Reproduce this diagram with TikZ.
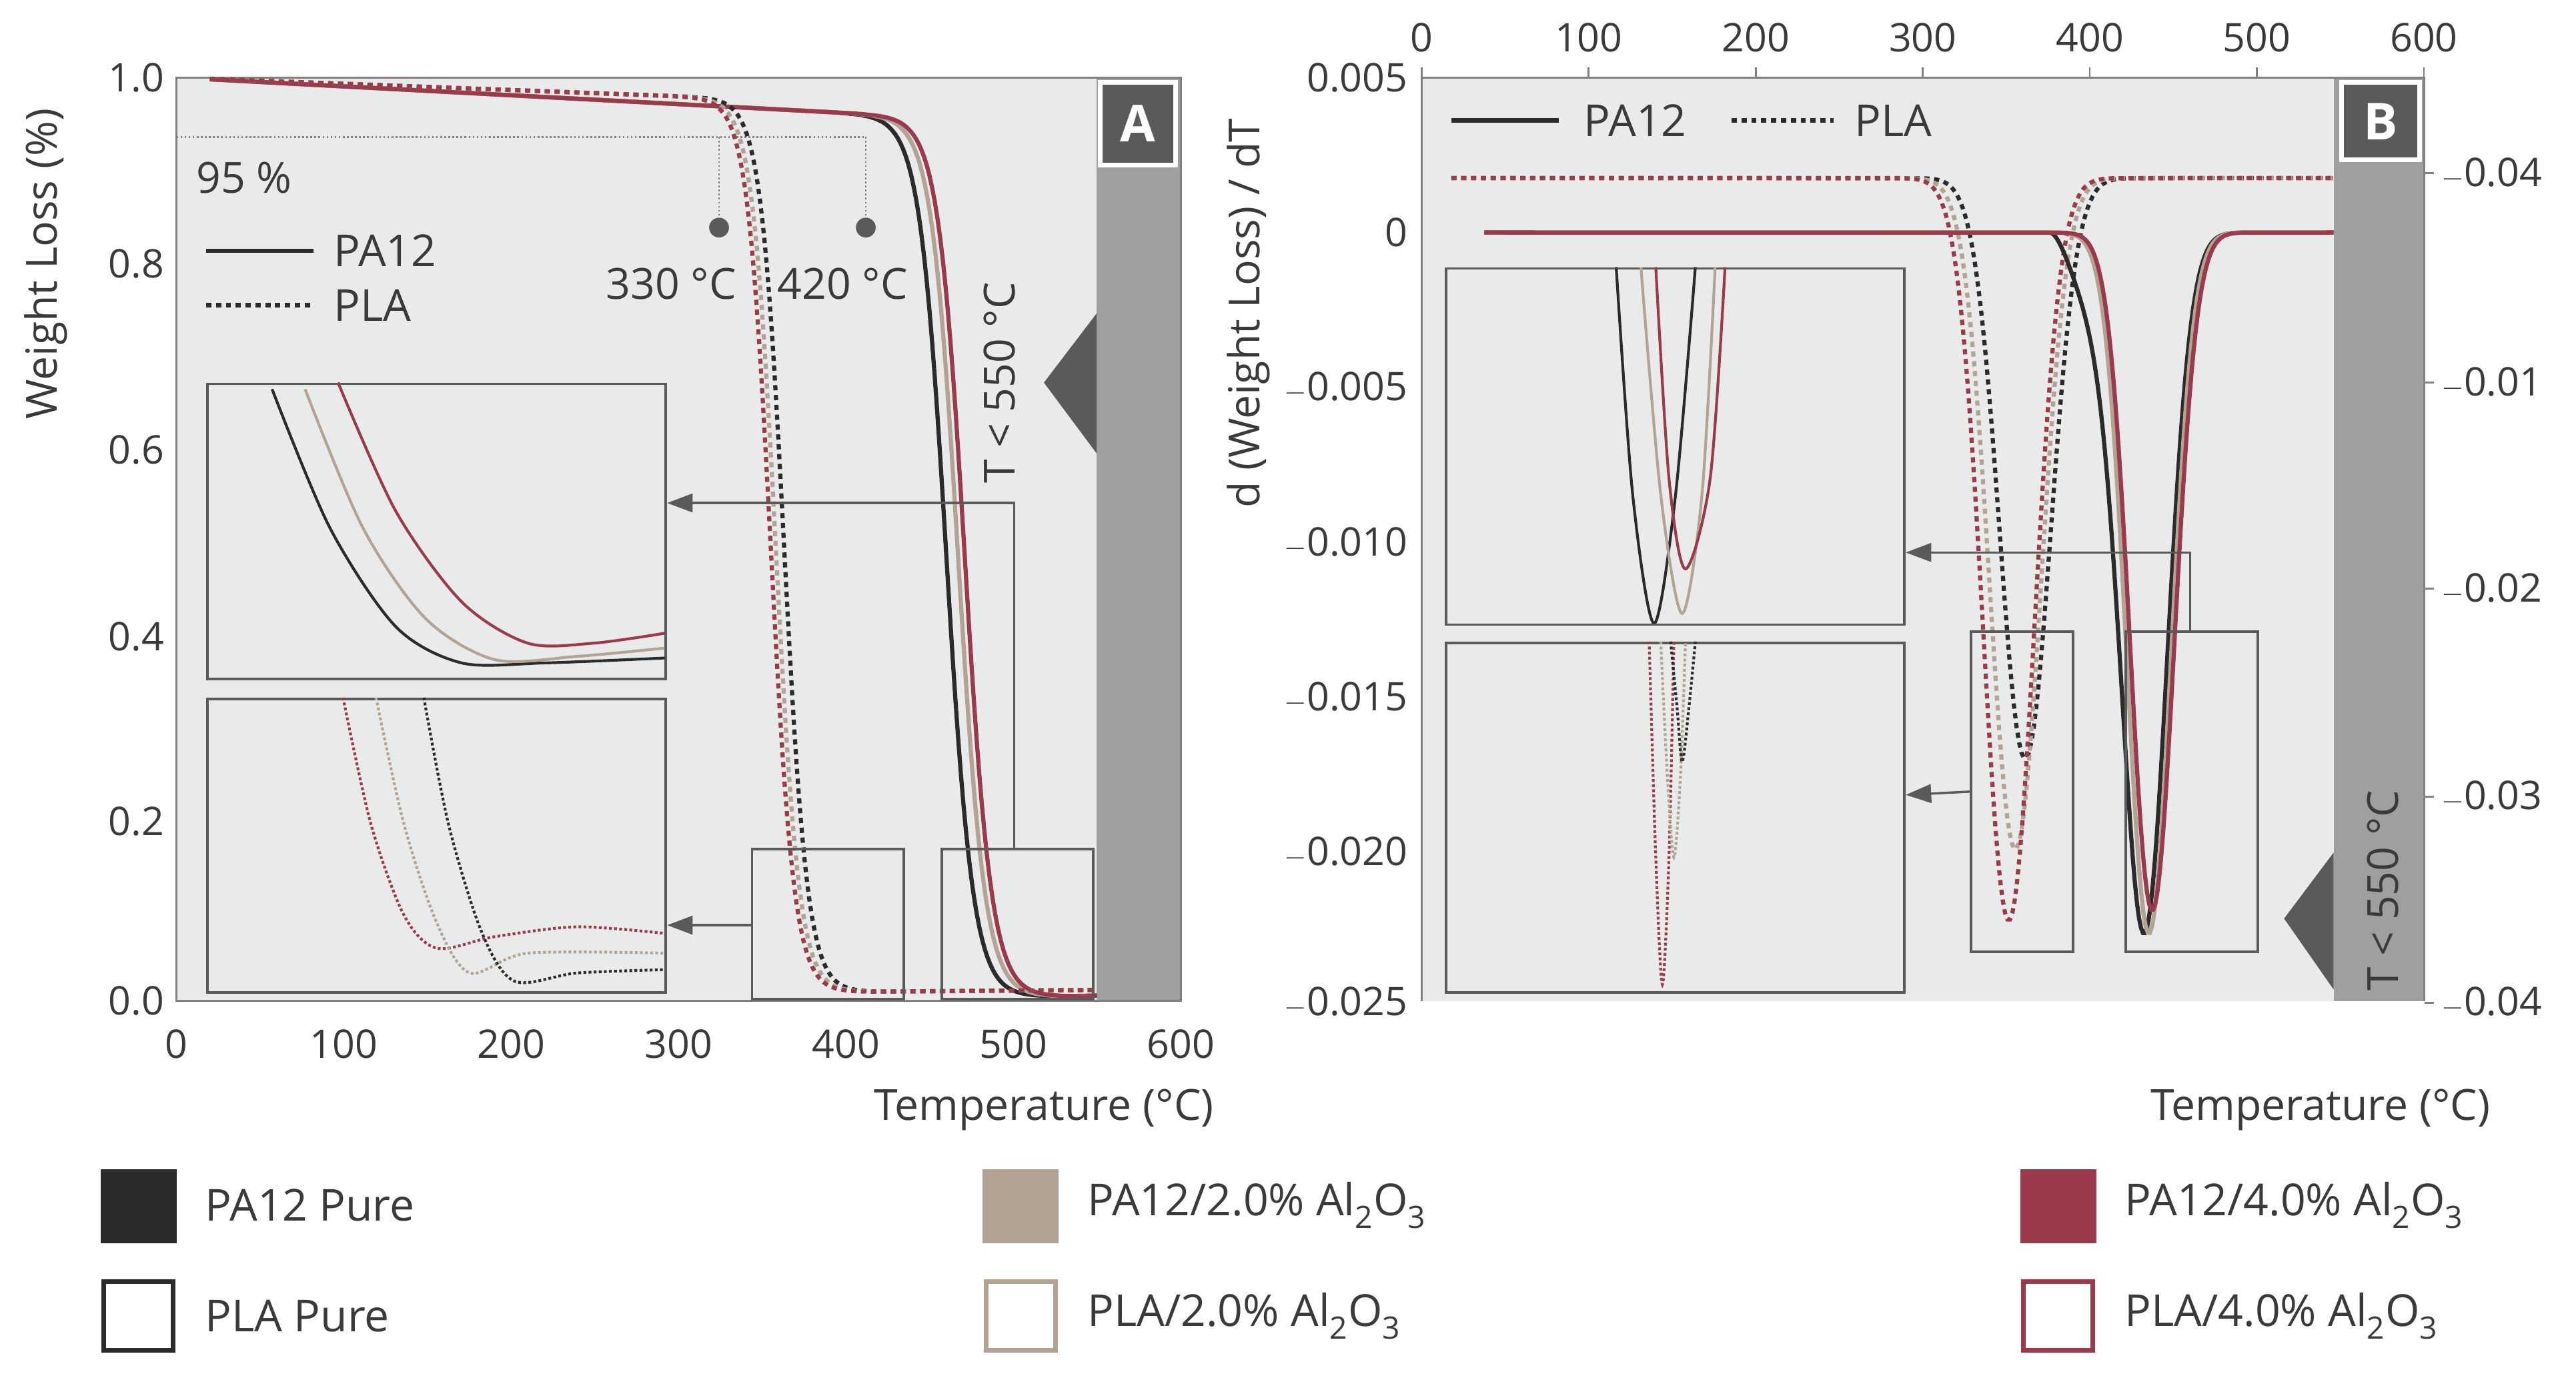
\documentclass[tikz,border=0pt]{standalone}
\usepackage{fontspec}
\setmainfont{Open Sans}
\usetikzlibrary{arrows.meta}
\definecolor{cblk}{HTML}{2B2B2B}
\definecolor{cbei}{HTML}{B3A395}
\definecolor{cred}{HTML}{9B3A4A}
\definecolor{cbg}{HTML}{E9EBEA}
\definecolor{cband}{HTML}{9E9F9F}
\definecolor{cdark}{HTML}{5A5A5A}
\definecolor{ctxt}{HTML}{3A3A3A}
\tikzset{
 solidc/.style={line width=3.6pt},
 dotc/.style={line width=3.6pt, dash pattern=on 4.5pt off 4pt},
 insetbox/.style={draw=cdark, line width=2.2pt},
 conn/.style={draw=cdark, line width=2pt, -{Triangle[length=22pt,width=16pt]}},
 tick/.style={font=\fontsize{34}{40}\selectfont, text=ctxt},
 lab/.style={font=\fontsize{37}{44}\selectfont, text=ctxt},
 leg/.style={font=\fontsize{38}{46}\selectfont, text=ctxt, anchor=west},
}
\begin{document}
\begin{tikzpicture}[x=0.05cm,y=-0.05cm]
\useasboundingbox (0,0) rectangle (1562,833);
% ===== Panel A =====
\fill[cbg] (107,47) rectangle (716,607);
\fill[cband] (665,47) rectangle (716,607);
\fill[cdark] (633,232) -- (665,190) -- (665,275) -- cycle;
\draw[white,line width=4pt,fill=cdark] (667,50) rectangle (713,100);
\node[text=white,font=\bfseries\fontsize{44}{48}\selectfont] (labA) at (690,75) {A};
\draw[gray,line width=1.5pt] (107,47) rectangle (716,607);
\foreach \v/\yy in {1.0/47,0.8/160,0.6/273,0.4/386,0.2/498,0.0/607}
  \node[tick,anchor=east] at (102,\yy) {\v};
\foreach \t [count=\i from 0] in {0,100,200,300,400,500,600}
  \node[tick] at ({107+101.5*\i},633) {\t};
\node[lab,rotate=90] (ylA) at (28,160) {Weight Loss (\%)};
\node[lab] (xlA) at (633,673) {Temperature (°C)};
% 95% markers
\draw[gray,line width=1.5pt,dotted] (107,83) -- (525,83);
\draw[gray,line width=1.5pt,dotted] (436,83) -- (436,138);
\draw[gray,line width=1.5pt,dotted] (525,83) -- (525,138);
\fill[cdark] (436,138) circle (6);
\fill[cdark] (525,138) circle (6);
\node[lab] (p95) at (148,108) {95 \%};
\node[lab] (t330) at (407,172) {330 °C};
\node[lab] (t420) at (511,172) {420 °C};
\node[lab,rotate=90] (tA) at (606,232) {T < 550 °C};
% legend A
\draw[solidc,cblk] (125,152) -- (190,152);
\node[leg] (lgA1) at (200,152) {PA12};
\draw[dotc,cblk] (125,185) -- (190,185);
\node[leg] (lgA2) at (200,185) {PLA};
% curves A (data coordinates)
\begin{scope}[shift={(107,607)},x=0.05075cm,y=28cm]
 \foreach \c/\t in {cblk/460,cbei/467,cred/471}
  \draw[solidc,\c] (20,{1-0.04*20/420}) -- plot[domain=\t-70:\t+70,samples=90] (\x,{0.005+(0.995-0.04*\x/420)/(1+exp((\x-\t)/8))}) -- (550,0.006);
 \foreach \c/\t in {cblk/363,cbei/358,cred/355}
  \draw[dotc,\c] (20,{1-0.02*20/300}) -- plot[domain=\t-60:\t+60,samples=90] (\x,{0.01+(0.99-0.02*\x/300)/(1+exp((\x-\t)/7))}) -- (550,0.012);
\end{scope}
% small boxes & insets A
\draw[insetbox] (456,515) rectangle (548,606);
\draw[insetbox] (571,515) rectangle (663,606);
\node[insetbox,fill=cbg,minimum width=278*0.05cm,minimum height=179*0.05cm,anchor=north west] (iA1) at (125,232) {};
\node[insetbox,fill=cbg,minimum width=278*0.05cm,minimum height=178*0.05cm,anchor=north west] (iA2) at (125,423) {};
\begin{scope}
 \clip (125,232) rectangle (403,411);
 \draw[line width=2.4pt,cblk] plot[smooth] coordinates {(165,236)(200,320)(240,380)(280,402)(330,402)(403,399)};
 \draw[line width=2.4pt,cbei] plot[smooth] coordinates {(185,236)(220,320)(258,375)(300,400)(350,398)(403,393)};
 \draw[line width=2.4pt,cred] plot[smooth] coordinates {(205,232)(240,310)(280,365)(320,390)(360,390)(403,384)};
\end{scope}
\begin{scope}
 \clip (125,423) rectangle (403,601);
 \draw[line width=2.4pt,cred,dotted] plot[smooth] coordinates {(208,423)(225,500)(245,555)(265,575)(300,568)(350,562)(403,566)};
 \draw[line width=2.4pt,cbei,dotted] plot[smooth] coordinates {(228,423)(245,500)(265,560)(285,590)(320,578)(403,578)};
 \draw[line width=2.4pt,cblk,dotted] plot[smooth] coordinates {(257,423)(272,500)(292,565)(312,595)(350,590)(403,588)};
\end{scope}
\coordinate (cA1) at (615,515);
\coordinate (cA2) at (456,561);
\draw[conn] (cA1) |- (iA1.east |- 0,305);
\draw[conn] (cA2) -- (iA2.east |- cA2);
% ===== Panel B =====
\fill[cbg] (862,47) rectangle (1470,607);
\fill[cband] (1415,47) rectangle (1470,607);
\fill[cdark] (1385,557) -- (1415,517) -- (1415,600) -- cycle;
\draw[white,line width=4pt,fill=cdark] (1420,50) rectangle (1467,97);
\node[text=white,font=\bfseries\fontsize{44}{48}\selectfont] (labB) at (1443.5,73.5) {B};
\draw[gray,line width=1.5pt] (862,607) -- (862,47) -- (1470,47) -- (1470,607);
\foreach \t [count=\i from 0] in {0,100,200,300,400,500,600}{
  \draw[gray,line width=1.5pt] ({862+101.3*\i},47) -- ({862+101.3*\i},41);
  \node[tick] at ({862+101.3*\i},23) {\t};}
\foreach \v/\yy in {0.005/47,0/141,$-$0.005/235,$-$0.010/329,$-$0.015/423,$-$0.020/517,$-$0.025/608}
  \node[tick,anchor=east] at (856,\yy) {\v};
\foreach \yy in {105,232,357,483,608}
  \draw[gray,line width=1.5pt] (1470,\yy) -- (1476,\yy);
\foreach \v/\yy in {$-$0.04/105,$-$0.01/232,$-$0.02/357,$-$0.03/483,$-$0.04/608}
  \node[tick,anchor=west] at (1478,\yy) {\v};
\node[lab,rotate=90] (ylB) at (757,190) {d (Weight Loss) / dT};
\node[lab] (xlB) at (1407,673) {Temperature (°C)};
\node[lab,rotate=90,text=ctxt] (tB) at (1445,540) {T < 550 °C};
% legend B
\draw[solidc,cblk] (880,73) -- (945,73);
\node[leg] (lgB1) at (958,73) {PA12};
\draw[dotc,cblk] (1050,73) -- (1112,73);
\node[leg] (lgB2) at (1122,73) {PLA};
% curves B
\foreach \c/\xo/\d in {cblk/1228/352,cbei/1222/407,cred/1218/450}
  \draw[dotc,\c] (880,108) -- plot[domain=\xo-66:\xo+66,samples=90] (\x,{108+\d*exp(-((\x-\xo)/22)^2)}) -- (1415,108);
\draw[solidc,cblk] (900,141) -- plot[domain=1240:1360,samples=100] (\x,{141+425*exp(-((\x-1300)/20)^2)+35*max(0,1-((\x-1268)/25)^2)^2}) -- (1415,141);
\draw[solidc,cbei] (900,141) -- plot[domain=1245:1361,samples=90] (\x,{141+425*exp(-((\x-1303)/19)^2)}) -- (1415,141);
\draw[solidc,cred] (900,141) -- plot[domain=1248:1362,samples=90] (\x,{141+411*exp(-((\x-1305)/19)^2)}) -- (1415,141);
% small boxes & insets B
\draw[insetbox] (1195,383) rectangle (1257,577);
\draw[insetbox] (1289,383) rectangle (1369,577);
\node[insetbox,fill=cbg,minimum width=278*0.05cm,minimum height=216*0.05cm,anchor=north west] (iB1) at (876,162) {};
\node[insetbox,fill=cbg,minimum width=278*0.05cm,minimum height=212*0.05cm,anchor=north west] (iB2) at (876,389) {};
\begin{scope}
 \clip (876,162) rectangle (1154,378);
 \draw[line width=2.4pt,cblk] plot[smooth] coordinates {(980,162)(990,300)(1003,378)(1016,300)(1028,162)};
 \draw[line width=2.4pt,cbei] plot[smooth] coordinates {(995,162)(1007,300)(1020,372)(1032,300)(1040,162)};
 \draw[line width=2.4pt,cred] plot[smooth] coordinates {(1004,162)(1012,290)(1022,345)(1037,290)(1046,162)};
\end{scope}
\begin{scope}
 \clip (876,389) rectangle (1154,601);
 \draw[line width=2.4pt,cred,dotted] plot[smooth] coordinates {(1000,389)(1004,520)(1008,597)(1012,520)(1015,389)};
 \draw[line width=2.4pt,cbei,dotted] plot[smooth] coordinates {(1007,389)(1011,470)(1015,520)(1019,470)(1022,389)};
 \draw[line width=2.4pt,cblk,dotted] plot[smooth] coordinates {(1013,389)(1017,430)(1020,462)(1024,430)(1028,389)};
\end{scope}
\coordinate (cB1) at (1328,383);
\coordinate (cB2) at (1195,480);
\draw[conn] (cB1) |- (iB1.east |- 0,335);
\draw[conn] (cB2) -- (iB2.east |- 0,482);
% ===== bottom legend =====
\draw[fill=cblk,draw=cblk,line width=3pt] (62,710) rectangle (106,753);
\node[leg] (l1) at (122,731) {PA12 Pure};
\draw[fill=white,draw=cblk,line width=4pt] (63,777) rectangle (105,819);
\node[leg] (l2) at (122,798) {PLA Pure};
\draw[fill=cbei,draw=cbei,line width=3pt] (597,710) rectangle (641,753);
\node[leg] (l3) at (657,731) {PA12/2.0\% Al\textsubscript{2}O\textsubscript{3}};
\draw[fill=white,draw=cbei,line width=4pt] (598,777) rectangle (640,819);
\node[leg] (l4) at (657,798) {PLA/2.0\% Al\textsubscript{2}O\textsubscript{3}};
\draw[fill=cred,draw=cred,line width=3pt] (1226,710) rectangle (1270,753);
\node[leg] (l5) at (1286,731) {PA12/4.0\% Al\textsubscript{2}O\textsubscript{3}};
\draw[fill=white,draw=cred,line width=4pt] (1227,777) rectangle (1269,819);
\node[leg] (l6) at (1286,798) {PLA/4.0\% Al\textsubscript{2}O\textsubscript{3}};
\end{tikzpicture}
\end{document}
